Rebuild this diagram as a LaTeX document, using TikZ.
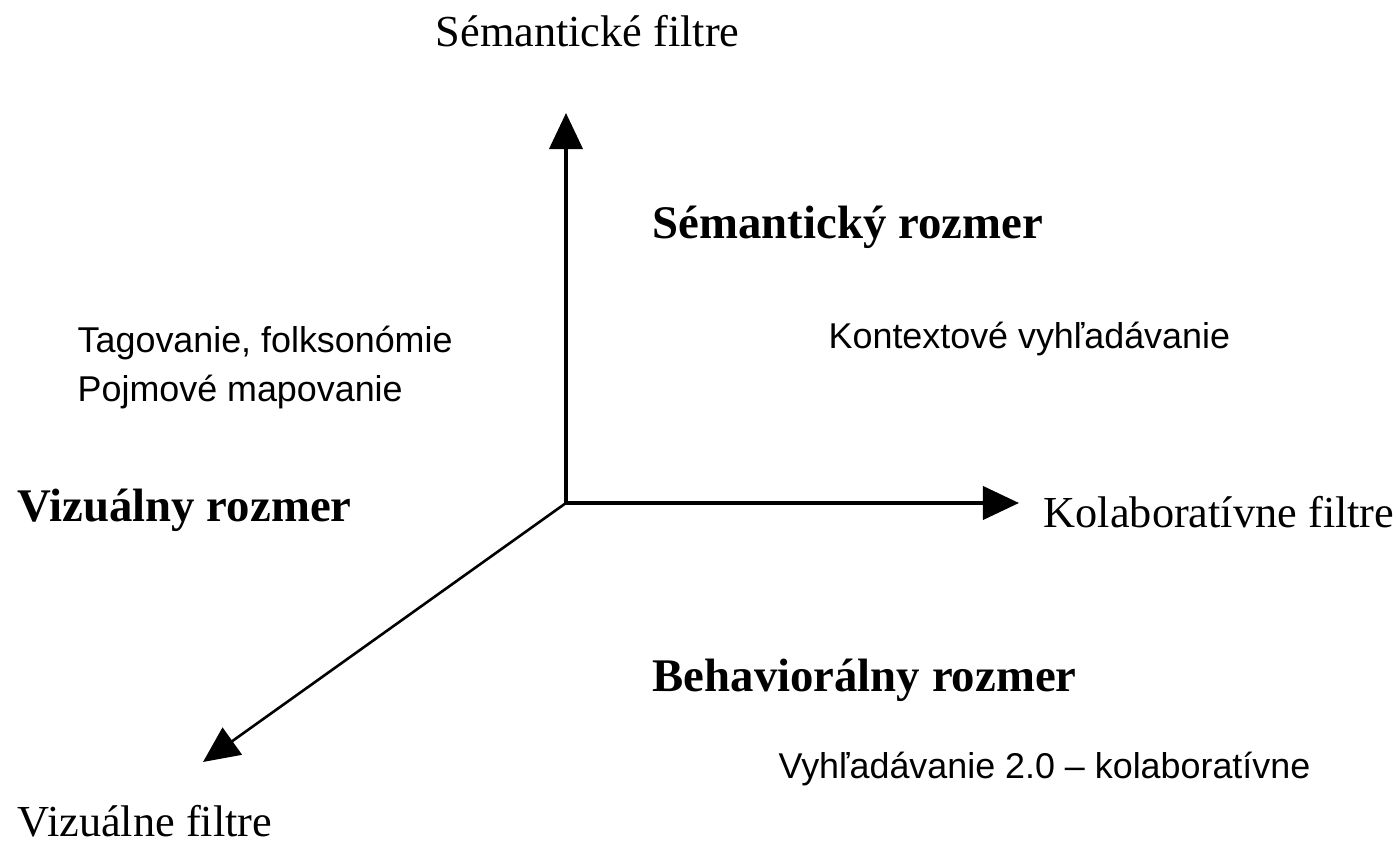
\documentclass[tikz,border=0pt]{standalone}
\usepackage{fontspec}
\setmainfont{Liberation Serif}
\newfontfamily\smallsans{Liberation Sans}
\usetikzlibrary{arrows.meta}
\tikzset{
  axis/.style={line width=0.04cm,-{Triangle[length=0.36cm,width=0.33cm]}},
  diag/.style={line width=0.026cm,-{Triangle[length=0.36cm,width=0.33cm]}},
  filtre/.style={anchor=base west,inner sep=0pt,font=\fontsize{12.6}{15}\selectfont},
  rozmer/.style={anchor=base west,inner sep=0pt,font=\fontsize{13.3}{16}\selectfont\bfseries},
  popis/.style={anchor=base west,inner sep=0pt,align=left,font=\smallsans\fontsize{10.2}{14.2}\selectfont}
}
\begin{document}
\begin{tikzpicture}[x=0.01cm,y=-0.01cm]
            \useasboundingbox (0,0) rectangle (1396,852);
            % osi
            \coordinate (o) at (566,503);
            \coordinate (sem) at (566,113);
            \coordinate (kol) at (1019,503);
            \coordinate (viz) at (203,762);
            \draw [axis] (o)--(sem);
            \draw [axis] (o)--(kol);
            \draw [diag] (o)--(viz);
            % popisy osi
            \node [filtre] (semf) at (435,47) {Sémantické filtre};
            \node [filtre] (kolf) at (1043,528) {Kolaboratívne filtre};
            \node [filtre] (vizf) at (17,837) {Vizuálne filtre};
            % rozmery
            \node [rozmer] (semr) at (652,239) {Sémantický rozmer};
            \node [rozmer] (vizr) at (17,522) {Vizuálny rozmer};
            \node [rozmer] (behr) at (652,692) {Behaviorálny rozmer};
            % texty (baseline = posledny riadok)
            \node [popis] (kont) at (828,349) {Kontextové vyhľadávanie};
            \node [popis] (tag) at (77,402) {Tagovanie, folksonómie\\Pojmové mapovanie};
            \node [popis] (vyhl) at (778,779) {Vyhľadávanie 2.0 – kolaboratívne};
        \end{tikzpicture}
\end{document}
